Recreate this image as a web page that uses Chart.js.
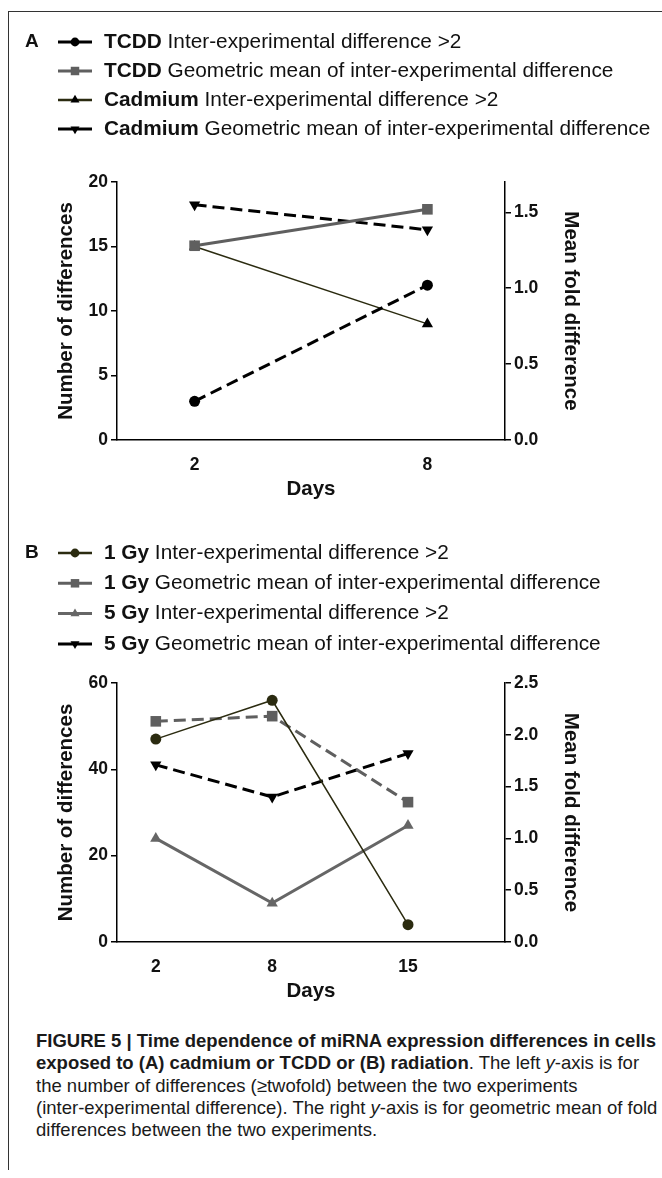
<!DOCTYPE html>
<html>
<head>
<meta charset="utf-8">
<script src="https://cdn.jsdelivr.net/npm/chart.js@4.4.1/dist/chart.umd.min.js"></script>
<style>
html, body { margin: 0; padding: 0; background: #fff; }
body { width: 662px; height: 1178px; position: relative; overflow: hidden; font-family: "Liberation Sans", Arial, sans-serif; color: #1a1a1a; }
#frame { position: absolute; left: 8px; top: 11px; width: 660px; height: 1158px; border-top: 1.5px solid #333; border-left: 1.5px solid #333; }
.panel { position: absolute; left: 0; width: 662px; }
#panelA { top: 0; height: 510px; }
#panelB { top: 510px; height: 502px; }
#caption { position: absolute; left: 36px; top: 1030px; font-size: 18.5px; line-height: 22.3px; white-space: nowrap; }
</style>
</head>
<body>
<div id="frame"></div>
<div class="panel" id="panelA"><canvas id="chartA" width="662" height="510"></canvas></div>
<div class="panel" id="panelB"><canvas id="chartB" width="662" height="502"></canvas></div>
<div id="caption">
<b>FIGURE 5 | Time dependence of miRNA expression differences in cells</b><br>
<b>exposed to (A) cadmium or TCDD or (B) radiation</b>. The left <i>y</i>-axis is for<br>
the number of differences (≥twofold) between the two experiments<br>
(inter-experimental difference). The right <i>y</i>-axis is for geometric mean of fold<br>
differences between the two experiments.
</div>
<script>
// ── Data ─────────────────────────────────────────────────────────────────────

// Panel A: cadmium / TCDD
const daysA        = [2, 8];
const dayTicksA    = [2, 8];
const tcddInter    = [3, 12];
const tcddGeoMean  = [1.28, 1.52];
const cdInter      = [15, 9];
const cdGeoMean    = [1.55, 1.385];
const leftTicksA   = [0, 5, 10, 15, 20];
const rightTicksA  = [0, 0.5, 1.0, 1.5];

// Panel B: radiation
const daysB        = [2, 8, 15];
const dayTicksB    = [2, 8, 15];
const gy1Inter     = [47, 56, 4];
const gy1GeoMean   = [2.13, 2.18, 1.35];
const gy5Inter     = [24, 9, 27];
const gy5GeoMean   = [1.71, 1.40, 1.82];
const leftTicksB   = [0, 20, 40, 60];
const rightTicksB  = [0, 0.5, 1.0, 1.5, 2.0, 2.5];

const legendBoldA  = ['TCDD', 'TCDD', 'Cadmium', 'Cadmium'];
const legendBoldB  = ['1 Gy', '1 Gy', '5 Gy', '5 Gy'];
const legendRest   = ['Inter-experimental difference >2',
                      'Geometric mean of inter-experimental difference',
                      'Inter-experimental difference >2',
                      'Geometric mean of inter-experimental difference'];

// ── Helpers ──────────────────────────────────────────────────────────────────

const FONT = '"Liberation Sans", Arial, sans-serif';
const BLACK = '#111';
const GREY  = '#5f5f5f';
const OLIVE = '#2b2b10';

function pts(days, vals) {
    return days.map((d, i) => ({ x: d, y: vals[i] }));
}

function marker(ctx, style, rot, r, x, y) {
    ctx.save();
    ctx.translate(x, y);
    ctx.rotate((rot || 0) * Math.PI / 180);
    ctx.beginPath();
    if (style === 'circle') {
        ctx.arc(0, 0, r, 0, Math.PI * 2);
    } else if (style === 'rect') {
        const s = r * Math.SQRT1_2;
        ctx.rect(-s, -s, 2 * s, 2 * s);
    } else {
        ctx.moveTo(0, -r);
        ctx.lineTo(r * 0.866, r * 0.5);
        ctx.lineTo(-r * 0.866, r * 0.5);
        ctx.closePath();
    }
    ctx.fill();
    ctx.restore();
}

const richLegend = {
    id: 'richLegend',
    afterDraw(chart, args, opts) {
        const ctx = chart.ctx;
        ctx.save();
        ctx.textBaseline = 'middle';
        ctx.fillStyle = BLACK;
        ctx.font = `bold 19px ${FONT}`;
        ctx.fillText(opts.letter, 25, opts.top);
        chart.data.datasets.forEach((ds, i) => {
            const y = opts.top + i * opts.gap;
            ctx.strokeStyle = ds.borderColor;
            ctx.lineWidth = Math.max(ds.borderWidth, 2.5);
            ctx.setLineDash([]);
            ctx.beginPath();
            ctx.moveTo(58, y);
            ctx.lineTo(92, y);
            ctx.stroke();
            ctx.fillStyle = ds.pointBackgroundColor;
            marker(ctx, ds.pointStyle, ds.pointRotation, ds.pointRadius * 0.8, 75, y);
            ctx.fillStyle = BLACK;
            ctx.font = `bold 20.8px ${FONT}`;
            ctx.fillText(opts.bold[i], 104, y);
            const w = ctx.measureText(opts.bold[i] + ' ').width;
            ctx.font = `20.8px ${FONT}`;
            ctx.fillText(opts.rest[i], 104 + w, y);
        });
        ctx.restore();
    }
};

function yAxis(pos, max, tickVals, decimals, title, titlePad) {
    return {
        type: 'linear', position: pos, min: 0, max,
        afterBuildTicks: s => { s.ticks = tickVals.map(v => ({ value: v })); },
        afterFit: s => { s.width = pos === 'left' ? 117 : 157; },
        grid: { drawOnChartArea: false, drawTicks: true, tickLength: 6, color: '#000', lineWidth: 1.5 },
        border: { display: true, color: '#000', width: 1.5 },
        ticks: {
            color: BLACK, padding: 3,
            font: { family: FONT, size: 17.5, weight: 'bold' },
            callback: v => Number(v).toFixed(decimals)
        },
        title: {
            display: true, text: title, color: BLACK,
            font: { family: FONT, size: 20.5, weight: 'bold' },
            padding: { top: titlePad, bottom: 0 }
        }
    };
}

function xAxis(max, tickVals) {
    return {
        type: 'linear', position: 'bottom', min: 0, max,
        afterBuildTicks: s => { s.ticks = tickVals.map(v => ({ value: v })); },
        afterFit: s => { s.height = 70; },
        grid: { display: false, drawTicks: false },
        border: { display: true, color: '#000', width: 1.5 },
        ticks: { color: BLACK, padding: 15, font: { family: FONT, size: 17.5, weight: 'bold' } },
        title: {
            display: true, text: 'Days', color: BLACK,
            font: { family: FONT, size: 20.5, weight: 'bold' },
            padding: { top: 0, bottom: 8 }
        }
    };
}

function series(data, axis, color, width, dash, style, radius, rot, fill) {
    return {
        data, yAxisID: axis,
        borderColor: color, borderWidth: width, borderDash: dash,
        pointStyle: style, pointRadius: radius, pointRotation: rot || 0,
        pointBackgroundColor: fill || color, pointBorderWidth: 0,
        tension: 0, fill: false
    };
}

function buildChart(id, cfg) {
    return new Chart(document.getElementById(id).getContext('2d'), {
        type: 'line',
        data: { datasets: cfg.datasets },
        options: {
            responsive: false, animation: false,
            layout: { padding: { top: cfg.padTop, left: 0, right: 0, bottom: 0 } },
            plugins: {
                legend: { display: false }, tooltip: { enabled: false },
                richLegend: cfg.legend
            },
            scales: {
                x: xAxis(cfg.xMax, cfg.xTicks),
                y: yAxis('left', cfg.yMax, cfg.yTicks, 0, 'Number of differences', 54),
                y1: yAxis('right', cfg.y1Max, cfg.y1Ticks, 1, 'Mean fold difference', 79)
            }
        },
        plugins: [richLegend]
    });
}

// ── Panel A ──────────────────────────────────────────────────────────────────

buildChart('chartA', {
    padTop: 182, xMax: 10, xTicks: dayTicksA,
    yMax: 20, yTicks: leftTicksA, y1Max: 1.7, y1Ticks: rightTicksA,
    legend: { letter: 'A', top: 42, gap: 29, bold: legendBoldA, rest: legendRest },
    datasets: [
        series(pts(daysA, tcddInter),   'y',  '#000', 3,   [12, 6], 'circle',   5.5),
        series(pts(daysA, tcddGeoMean), 'y1', GREY,   3,   [],      'rect',     7.5),
        series(pts(daysA, cdInter),     'y',  OLIVE,  1.5, [],      'triangle', 6.5, 0, '#000'),
        series(pts(daysA, cdGeoMean),   'y1', '#000', 3,   [12, 6], 'triangle', 6.5, 180)
    ]
});

// ── Panel B ──────────────────────────────────────────────────────────────────

buildChart('chartB', {
    padTop: 173, xMax: 20, xTicks: dayTicksB,
    yMax: 60, yTicks: leftTicksB, y1Max: 2.5, y1Ticks: rightTicksB,
    legend: { letter: 'B', top: 43, gap: 30.3, bold: legendBoldB, rest: legendRest },
    datasets: [
        series(pts(daysB, gy1Inter),   'y',  OLIVE,  1.5, [],      'circle',   5.5),
        series(pts(daysB, gy1GeoMean), 'y1', GREY,   3,   [12, 6], 'rect',     7.5),
        series(pts(daysB, gy5Inter),   'y',  '#666', 3,   [],      'triangle', 6.5),
        series(pts(daysB, gy5GeoMean), 'y1', '#000', 3,   [12, 6], 'triangle', 6.5, 180)
    ]
});
</script>
</body>
</html>
